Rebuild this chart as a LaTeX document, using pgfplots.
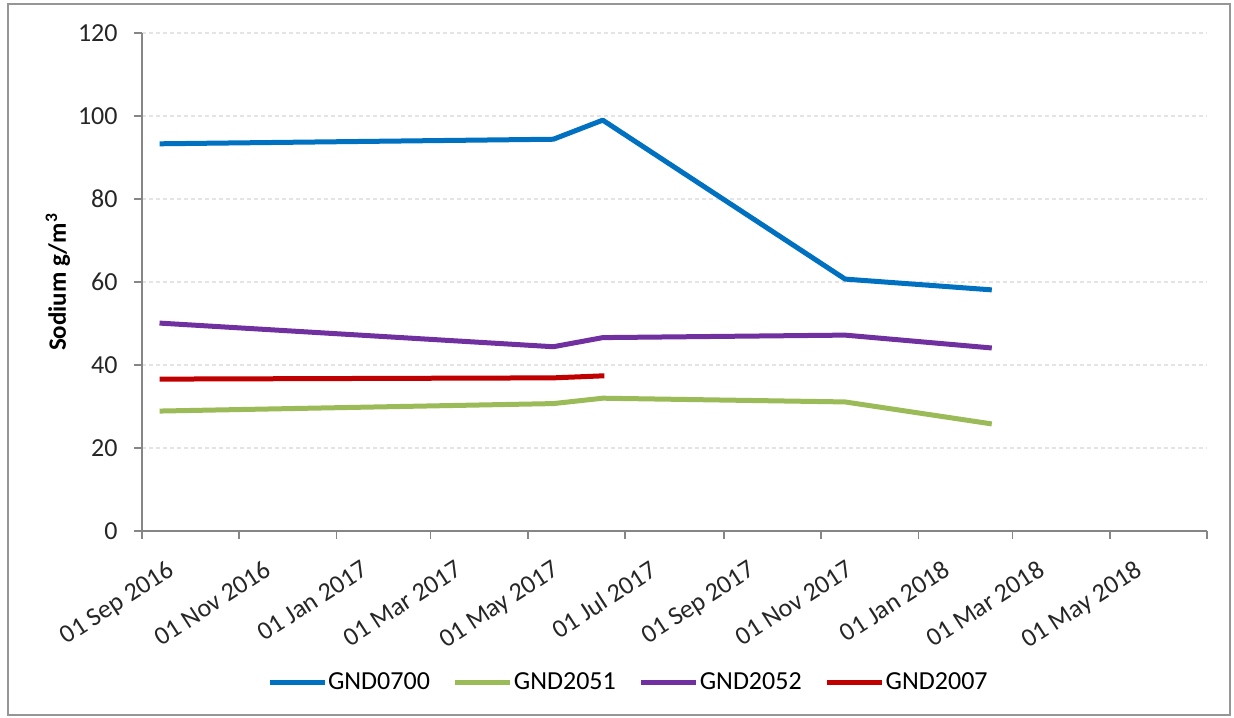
\documentclass[border=0pt]{standalone}
\usepackage{pgfplots}
\pgfplotsset{compat=1.18}
\usepackage{fontspec}
\setmainfont{Carlito}

\definecolor{cBlue}{RGB}{0,112,192}
\definecolor{cGreen}{RGB}{155,187,89}
\definecolor{cPurple}{RGB}{112,48,160}
\definecolor{cRed}{RGB}{192,0,0}
\definecolor{axisgray}{RGB}{134,134,134}
\definecolor{gridgray}{RGB}{228,228,228}
\definecolor{framegray}{RGB}{150,150,150}

\begin{document}
\begin{tikzpicture}
\useasboundingbox (0,0) rectangle (617pt,358.5pt);
\draw[framegray, line width=1pt] (4pt,1pt) rectangle (615pt,356.5pt);
% x values: days since 01 Sep 2016
\begin{axis}[
  at={(71pt,93pt)}, anchor=south west,
  width=532.5pt, height=249pt, scale only axis,
  xmin=0, xmax=668, ymin=0, ymax=120,
  axis lines*=left,
  axis line style={axisgray, line width=0.8pt},
  tick style={axisgray, line width=0.8pt},
  tick align=outside, major tick length=4pt,
  xtick={0,61,122,181,242,303,365,426,487,546,607,668},
  xticklabels={01 Sep 2016,01 Nov 2016,01 Jan 2017,01 Mar 2017,01 May 2017,01 Jul 2017,01 Sep 2017,01 Nov 2017,01 Jan 2018,01 Mar 2018,01 May 2018,{}},
  ytick={0,20,...,120},
  ymajorgrids,
  grid style={gridgray, dash pattern=on 2pt off 1.5pt, line width=0.7pt},
  /pgf/number format/assume math mode=true,
  ticklabel style={font=\fontsize{13}{15}\selectfont, text=black!85},
  xticklabel style={inner sep=0pt, xshift=12pt, yshift=-10pt, rotate=33, anchor=north east},
  yticklabel style={inner sep=0pt, xshift=-8pt},
  ylabel={\bfseries Sodium g/m\textsuperscript{3}},
  ylabel style={at={(axis description cs:-0.0789,0.5)}, anchor=center, font=\fontsize{12.5}{14}\selectfont, text=black},
  legend columns=4,
  legend image code/.code={\draw[#1] (0pt,0pt) -- (27.5pt,0pt);},
  legend style={draw=none, fill=none, inner sep=0pt,
    font=\fontsize{13}{15}\selectfont,
    at={(axis description cs:0.117,-0.305)}, anchor=west,
    nodes={inner sep=0.5pt},
    /tikz/every even column/.append style={column sep=11pt}},
  every axis plot/.append style={line width=2.5pt, line join=round},
]
\addplot[cBlue] coordinates {(11,93.3) (258,94.4) (289,99.0) (441,60.7) (533,58.1)};
\addlegendentry{GND0700}
\addplot[cGreen] coordinates {(11,28.9) (258,30.7) (289,32.0) (441,31.1) (533,25.8)};
\addlegendentry{GND2051}
\addplot[cPurple] coordinates {(11,50.1) (258,44.4) (289,46.6) (441,47.2) (533,44.1)};
\addlegendentry{GND2052}
\addplot[cRed] coordinates {(11,36.6) (258,36.9) (290,37.4)};
\addlegendentry{GND2007}
\end{axis}
\end{tikzpicture}
\end{document}
